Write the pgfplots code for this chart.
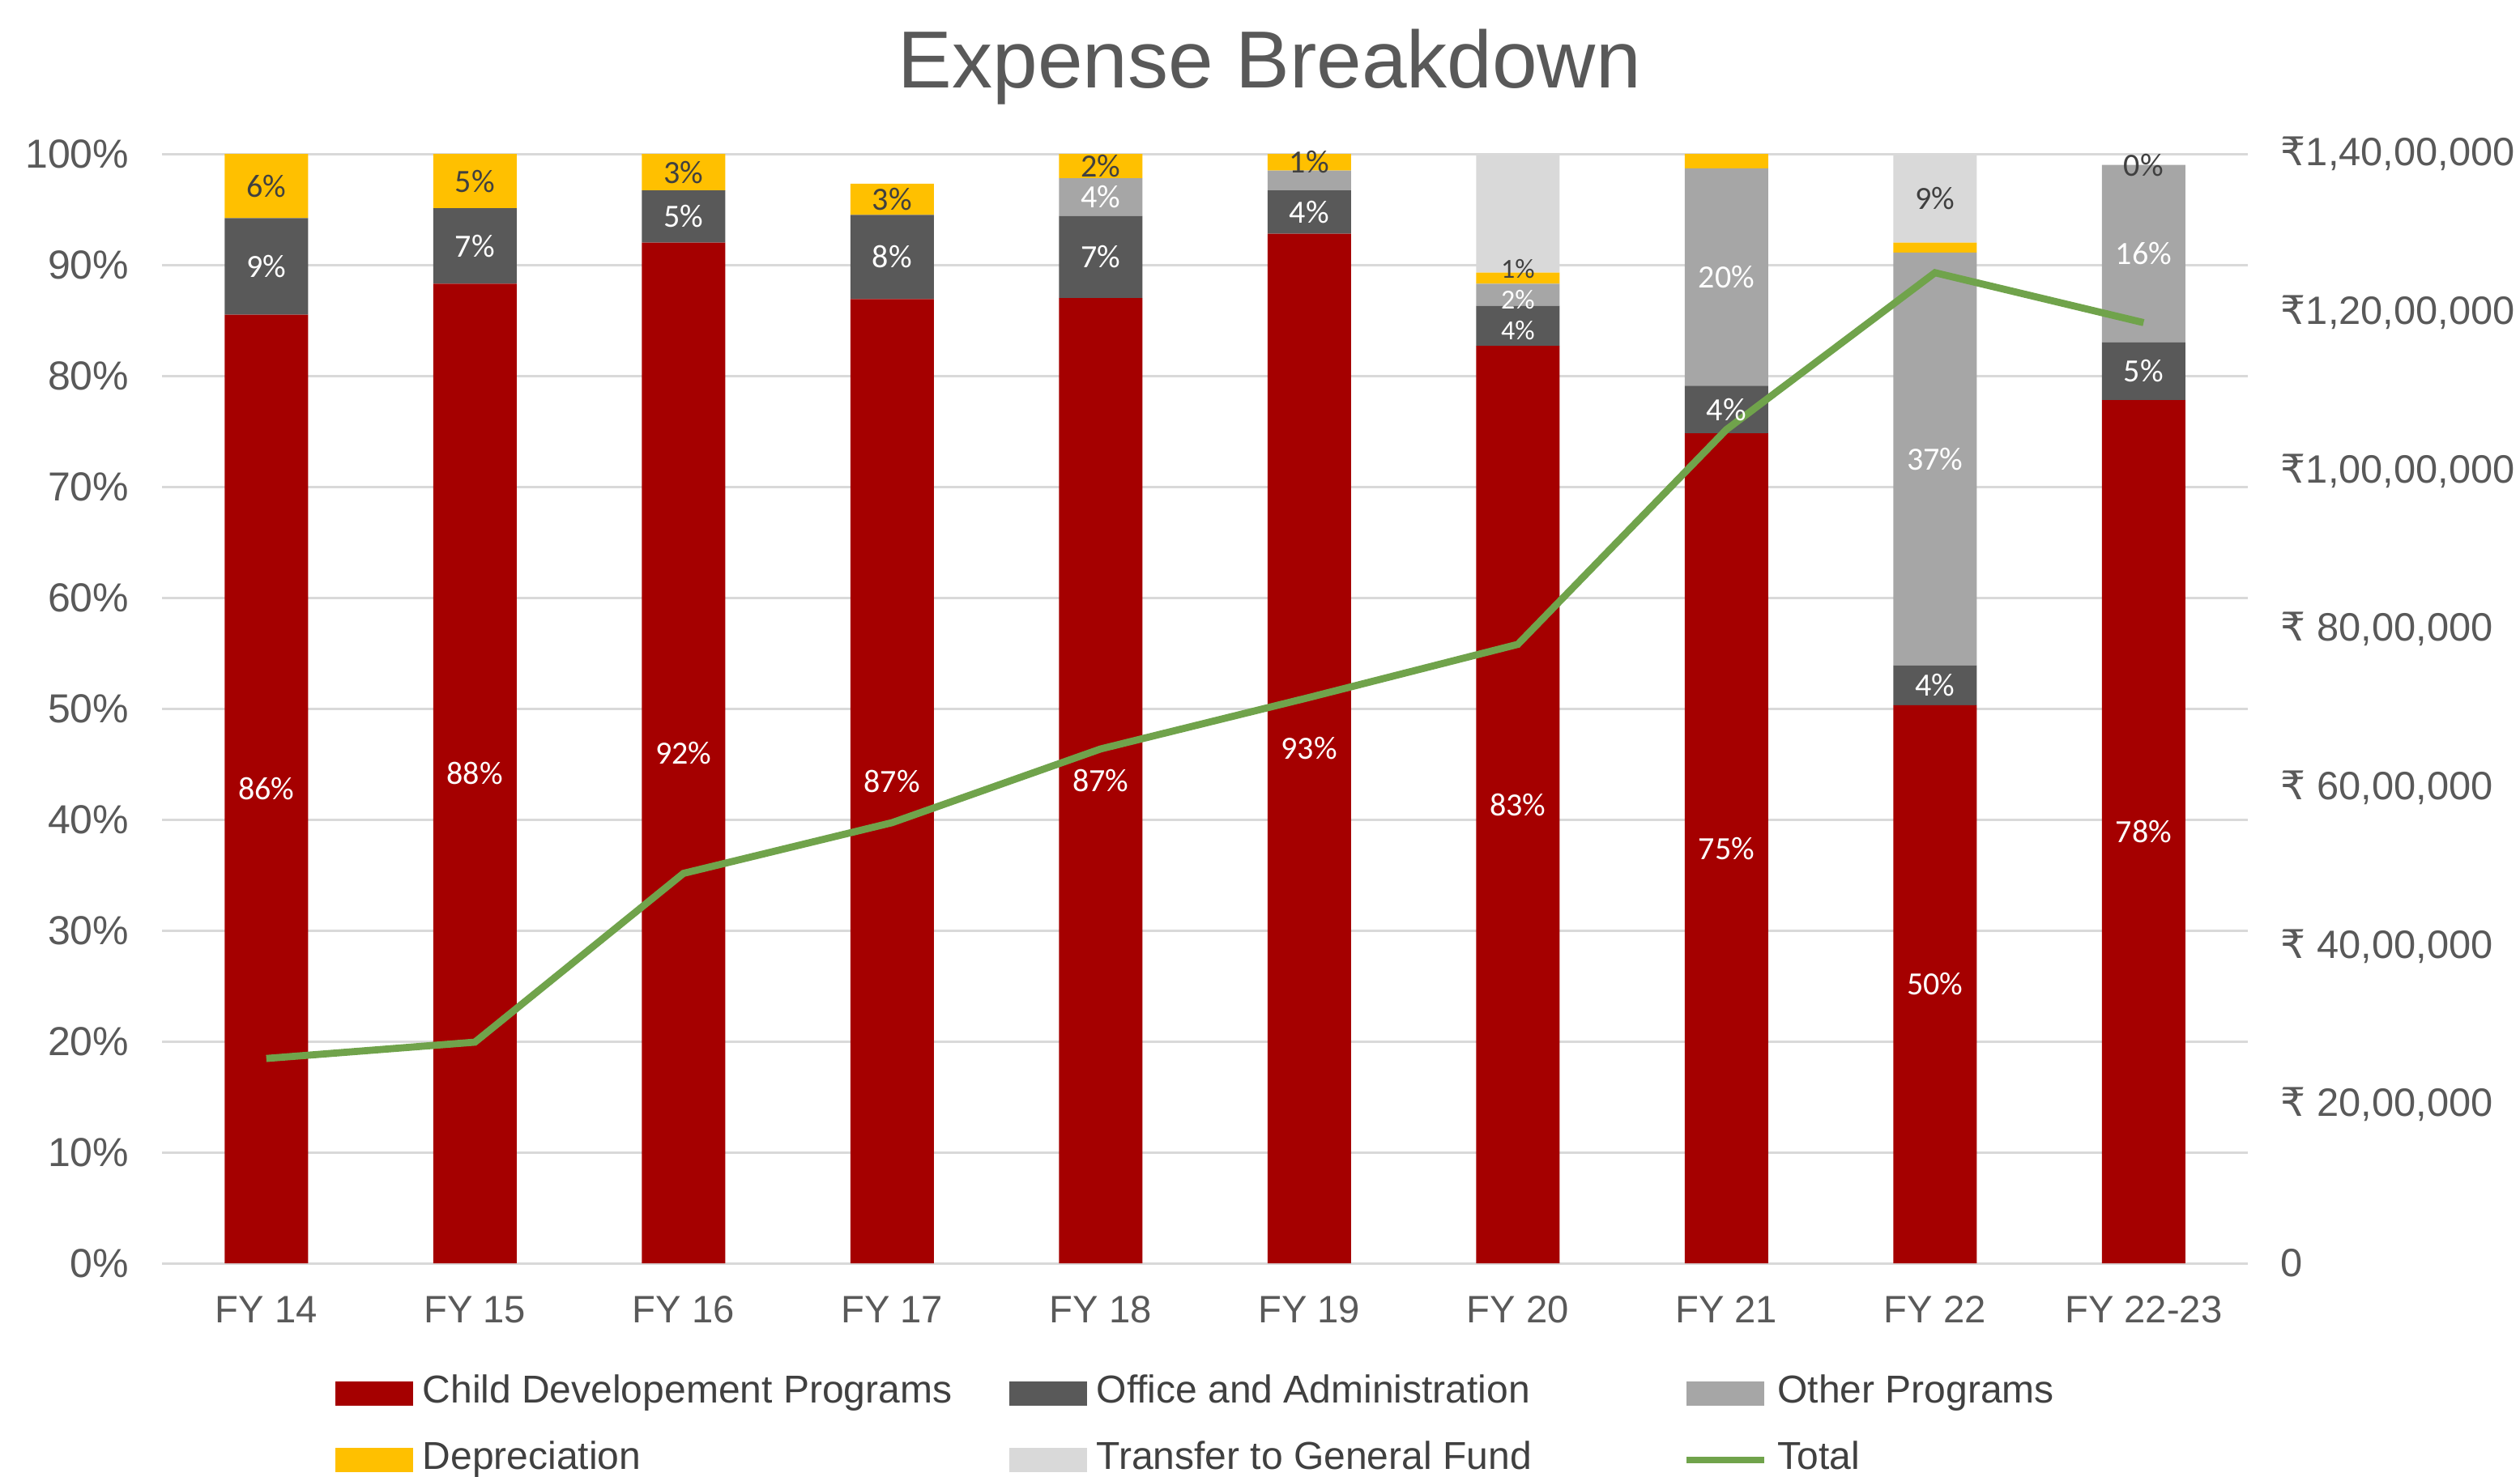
\documentclass[border=0pt]{standalone}
\usepackage{fontspec}
\setmainfont{Liberation Sans}
\newfontfamily\rs{DejaVu Sans}
\newfontfamily\lbl{Carlito}
\usepackage{pgfplots}
\pgfplotsset{compat=1.18}
\usepackage{pgfplotstable}

\definecolor{cdp}{RGB}{165,0,0}
\definecolor{oaa}{RGB}{89,89,89}
\definecolor{oth}{RGB}{166,166,166}
\definecolor{dep}{RGB}{255,192,0}
\definecolor{tgf}{RGB}{217,217,217}
\definecolor{tot}{RGB}{112,163,75}
\definecolor{txt}{RGB}{89,89,89}
\definecolor{legtxt}{RGB}{64,64,64}
\definecolor{gridc}{RGB}{217,217,217}

\pgfplotsset{
  barleg/.style={legend image code/.code={\fill[##1] (0pt,-3.75pt) rectangle (24pt,3.75pt);}},
  lineleg/.style={legend image code/.code={\draw[##1] (0pt,0pt) -- (24pt,0pt);}},
  common/.style={at={(0,0)}, anchor=south west, scale only axis,
    width=643.75pt, height=342.5pt, xmin=-0.5, xmax=9.5, clip=false},
}

% columns: Child Development, Office & Admin, Other Programs, Depreciation, Transfer to General Fund (percent)
\pgfplotstableread{
x cdp oaa oth dep tgf
0 85.5 8.7 0 5.8 0
1 88.3 6.8 0 4.9 0
2 92.0 4.7 0 3.3 0
3 86.9 7.6 0 2.8 0
4 87.0 7.4 3.4 2.2 0
5 92.8 3.9 1.8 1.5 0
6 82.7 3.6 2.0 1.0 10.7
7 74.8 4.3 19.6 1.3 0
8 50.3 3.6 37.2 0.9 8.0
9 77.8 5.2 16.0 0 0
}\expenses

% Total expense (INR)
\pgfplotstableread{
x total
0 2584000
1 2790000
2 4920000
3 5560000
4 6490000
5 7140000
6 7810000
7 10520000
8 12500000
9 11870000
}\totals

\begin{document}
\begin{tikzpicture}
\useasboundingbox (-50pt,-65.75pt) rectangle (727.75pt,390pt);

\begin{axis}[common,
  ymin=0, ymax=100,
  ybar stacked, bar width=0.4,
  axis line style={draw=none},
  major tick length=0pt,
  xtick={0,...,9},
  xticklabels={FY 14,FY 15,FY 16,FY 17,FY 18,FY 19,FY 20,FY 21,FY 22,FY 22-23},
  ytick={0,10,...,100},
  yticklabels={0\%,10\%,20\%,30\%,40\%,50\%,60\%,70\%,80\%,90\%,100\%},
  ymajorgrids, grid style={draw=gridc, line width=0.75pt},
  yticklabel style={font=\fontsize{12.5}{14}\selectfont, text=txt, inner sep=0pt, anchor=east, xshift=-10pt},
  xticklabel style={font=\fontsize{11.8}{14}\selectfont, text=txt, inner sep=0pt, anchor=north, yshift=-10pt},
  title={Expense Breakdown},
  title style={font=\fontsize{25}{30}\selectfont, text=txt, inner sep=0pt,
    at={(axis description cs:0.531,1)}, anchor=base, yshift=14.5pt},
  legend columns=3,
  legend cell align=left,
  legend style={draw=none, fill=none, at={(axis description cs:0.078,-0.0935)}, anchor=north west,
    font=\fontsize{12}{14}\selectfont, text=legtxt,
    nodes={inner sep=0pt, text height=9pt, text depth=3pt},
    /tikz/every odd column/.append style={column sep=3pt},
    /tikz/row sep=8.5pt},
]
\addplot[barleg, fill=cdp, draw=none] table[x=x, y=cdp] {\expenses};
\addlegendentry{\makebox[181pt][l]{Child Developement Programs}}
\addplot[barleg, fill=oaa, draw=none] table[x=x, y=oaa] {\expenses};
\addlegendentry{\makebox[181pt][l]{Office and Administration}}
\addplot[barleg, fill=oth, draw=none] table[x=x, y=oth] {\expenses};
\addlegendentry{\makebox[181pt][l]{Other Programs}}
\addplot[barleg, fill=dep, draw=none] table[x=x, y=dep] {\expenses};
\addlegendentry{\makebox[181pt][l]{Depreciation}}
\addplot[barleg, fill=tgf, draw=none] table[x=x, y=tgf] {\expenses};
\addlegendentry{\makebox[181pt][l]{Transfer to General Fund}}
\addlegendimage{lineleg, draw=tot, line width=2.2pt}
\addlegendentry{\makebox[181pt][l]{Total}}
\end{axis}

\begin{axis}[common,
  ymin=0, ymax=14000000,
  axis x line=none,
  axis y line*=right,
  axis line style={draw=none},
  major tick length=0pt,
  scaled y ticks=false,
  ytick={0,2000000,4000000,6000000,8000000,10000000,12000000,14000000},
  yticklabels={0,{{\rs ₹} 20,00,000},{{\rs ₹} 40,00,000},{{\rs ₹} 60,00,000},{{\rs ₹} 80,00,000},{{\rs ₹}1,00,00,000},{{\rs ₹}1,20,00,000},{{\rs ₹}1,40,00,000}},
  yticklabel style={font=\fontsize{12.2}{14}\selectfont, text=txt, inner sep=0pt, anchor=west, xshift=10pt},
]
\addplot[draw=tot, line width=2.2pt, mark=none] table[x=x, y=total] {\totals};
\end{axis}

\begin{axis}[common, ymin=0, ymax=100, hide axis]
\addplot[draw=none, mark=none, point meta=explicit symbolic,
  nodes near coords={\pgfplotspointmeta\%}, nodes near coords align={center},
  every node near coord/.append style={text=white, inner sep=0pt, font=\lbl\fontsize{10}{12}\selectfont}]
coordinates {
(0,42.75) [86] (0,89.85) [9]
(1,44.15) [88] (1,91.7) [7]
(2,46) [92] (2,94.35) [5]
(3,43.45) [87] (3,90.7) [8]
(4,43.5) [87] (4,90.7) [7] (4,96.1) [4]
(5,46.4) [93] (5,94.75) [4]
(6,41.35) [83]
(7,37.4) [75] (7,76.95) [4] (7,88.9) [20]
(8,25.15) [50] (8,52.1) [4] (8,72.5) [37]
(9,38.9) [78] (9,80.4) [5] (9,91) [16]
};
\addplot[draw=none, mark=none, point meta=explicit symbolic,
  nodes near coords={\pgfplotspointmeta\%}, nodes near coords align={center},
  every node near coord/.append style={text=white, inner sep=0pt, font=\lbl\fontsize{8.5}{10}\selectfont}]
coordinates {
(6,84.1) [4] (6,86.85) [2]
};
\addplot[draw=none, mark=none, point meta=explicit symbolic,
  nodes near coords={\pgfplotspointmeta\%}, nodes near coords align={center},
  every node near coord/.append style={text=legtxt, inner sep=0pt, font=\lbl\fontsize{8.5}{10}\selectfont}]
coordinates {
(6,89.6) [1]
};
\addplot[draw=none, mark=none, point meta=explicit symbolic,
  nodes near coords={\pgfplotspointmeta\%}, nodes near coords align={center},
  every node near coord/.append style={text=legtxt, inner sep=0pt, font=\lbl\fontsize{10}{12}\selectfont}]
coordinates {
(0,97.1) [6] (1,97.55) [5] (2,98.35) [3] (3,95.9) [3] (4,98.9) [2]
(5,99.25) [1] (8,96) [9] (9,99) [0]
};
\end{axis}
\end{tikzpicture}
\end{document}
